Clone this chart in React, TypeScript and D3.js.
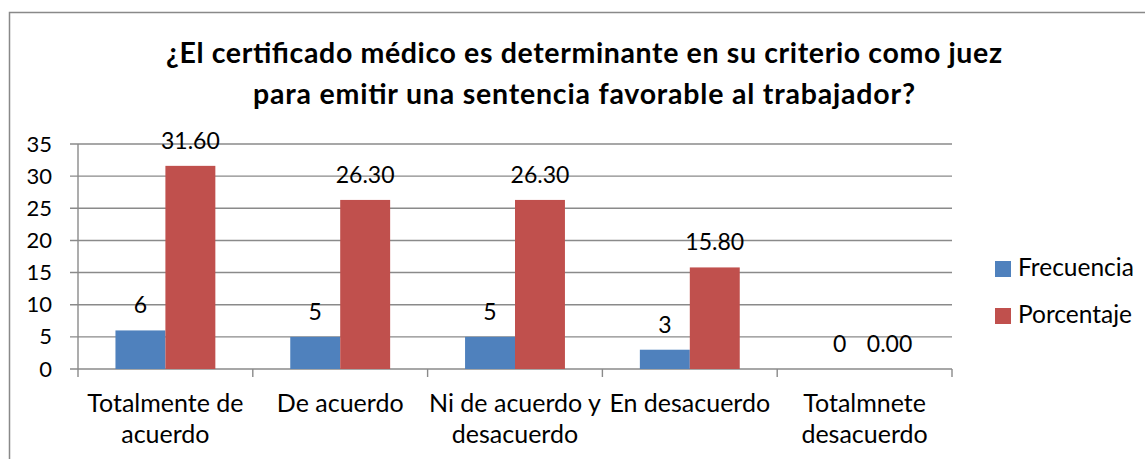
import React from "react";
import * as d3 from "d3";

const categories: string[][] = [
  ["Totalmente de", "acuerdo"],
  ["De acuerdo"],
  ["Ni de acuerdo y", "desacuerdo"],
  ["En desacuerdo"],
  ["Totalmnete", "desacuerdo"],
];
const frecuencia: number[] = [6, 5, 5, 3, 0];
const porcentaje: number[] = [31.6, 26.3, 26.3, 15.8, 0];
const seriesNames: string[] = ["Frecuencia", "Porcentaje"];
const seriesColors: string[] = ["#4F81BD", "#C0504D"];
const yTicks: number[] = [0, 5, 10, 15, 20, 25, 30, 35];
const titleLines: string[] = [
  "¿El certificado médico es determinante en su criterio como juez",
  "para emitir una sentencia favorable al trabajador?",
];
const titleWidths: number[] = [836, 662];

const W = 1145;
const H = 459;
const FONT = "Lato, 'Open Sans', sans-serif";

export default function App() {
  const left = 78;
  const right = 952;
  const top = 144;
  const bottom = 369;
  const idx = categories.map((_, i) => i);
  const x = d3.scaleBand<number>().domain(idx).range([left, right]).paddingInner(0).paddingOuter(0);
  const y = d3.scaleLinear().domain([0, 35]).range([bottom, top]);
  const groupW = x.bandwidth() / 1.75;
  const barW = groupW / 2;
  const series = [frecuencia, porcentaje];
  const fmt = [(v: number) => d3.format("d")(v), (v: number) => d3.format(".2f")(v)];

  return (
    <svg width={W} height={H} style={{ position: "absolute", left: 0, top: 0, background: "#fff" }} fontFamily={FONT}>
      <rect x={9.5} y={12.5} width={W} height={H} fill="#fff" stroke="#898989" strokeWidth={1.5} />
      {titleLines.map((t, i) => (
        <text
          key={i}
          x={584}
          y={63 + i * 41}
          textAnchor="middle"
          fontSize={28.5}
          fontWeight="bold"
          fill="#000"
          textLength={titleWidths[i]}
          lengthAdjust="spacing"
        >
          {t}
        </text>
      ))}
      {/* gridlines */}
      {yTicks.map((t) => (
        <g key={t}>
          <line x1={left - 8} x2={right} y1={y(t)} y2={y(t)} stroke="#8a8a8a" strokeWidth={1.4} />
          <text x={52} y={y(t) + 7.5} textAnchor="end" fontSize={22} fill="#000">
            {t}
          </text>
        </g>
      ))}
      {/* axes */}
      <line x1={left} x2={left} y1={top} y2={bottom} stroke="#8a8a8a" strokeWidth={1.4} />
      {d3.range(categories.length + 1).map((i) => {
        const xx = left + i * x.step();
        return <line key={i} x1={xx} x2={xx} y1={bottom} y2={bottom + 8} stroke="#8a8a8a" strokeWidth={1.4} />;
      })}
      {/* bars */}
      {series.map((s, si) =>
        s.map((v, i) => {
          const bx = (x(i) as number) + (x.bandwidth() - groupW) / 2 + si * barW;
          return (
            <g key={`${si}-${i}`}>
              {v > 0 && <rect x={bx} y={y(v)} width={barW} height={bottom - y(v)} fill={seriesColors[si]} />}
              <text x={bx + barW / 2} y={y(v) - 17} textAnchor="middle" fontSize={23} fill="#000">
                {fmt[si](v)}
              </text>
            </g>
          );
        })
      )}
      {/* category labels */}
      {categories.map((lines, i) => (
        <text key={i} textAnchor="middle" fontSize={25} fill="#000">
          {lines.map((l, j) => (
            <tspan key={j} x={(x(i) as number) + x.bandwidth() / 2} y={412 + j * 31}>
              {l}
            </tspan>
          ))}
        </text>
      ))}
      {/* legend */}
      {seriesNames.map((n, i) => (
        <g key={n} transform={`translate(995, ${261 + i * 47})`}>
          <rect x={0} y={0} width={16} height={16} fill={seriesColors[i]} />
          <text x={23} y={15} fontSize={24.5} fill="#000">
            {n}
          </text>
        </g>
      ))}
    </svg>
  );
}
